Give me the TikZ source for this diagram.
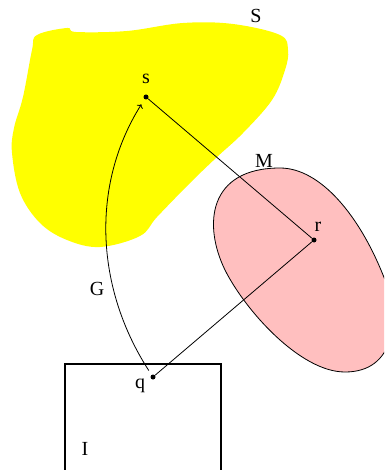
\documentclass[tikz,border=0pt]{standalone}
\usepackage{fontspec}
\setmainfont{Liberation Serif}
\usetikzlibrary{arrows.meta}
\definecolor{regionS}{HTML}{FFFF00}
\definecolor{regionM}{HTML}{FFBFBF}

\begin{document}
\begin{tikzpicture}[
    x=1pt,y=-1pt,
    every node/.style={font=\fontsize{20}{22}\selectfont,inner sep=0pt},
    dot/.style={circle,fill=black,minimum size=5pt,inner sep=0pt},
    link/.style={line width=0.8pt},
    frame/.style={line width=2pt}
]
\useasboundingbox (0,0) rectangle (384,470);
\clip (0,0) rectangle (384,470);
\fill[regionS] plot[smooth cycle,tension=0.6] coordinates {
    (37,35) (67,28) (76,32) (127,31) (183,23) (233,24) (280,35) (288,50)
    (285,70) (272,100) (243,133) (217,157) (190,183) (157,217) (140,236)
    (100,247) (67,240) (40,223) (20,193) (12,153) (14,128) (23,97) (32,50)};
\filldraw[fill=regionM,draw=black,line width=0.8pt]
    (280,168) .. controls (320,168) and (360,215) .. (385,280)
    .. controls (400,320) and (395,372) .. (345,372)
    .. controls (300,372) and (245,310) .. (225,270)
    .. controls (203,225) and (208,168) .. (280,168) -- cycle;
\draw[frame] (65,480) -- (65,364) -- (221,364) -- (221,480);

\node (labS) at (256,16) {S};
\node (labM) at (264,161) {M};
\node (labI) at (85,449) {I};
\node (labG) at (97,289) {G};

\node[dot] (s) at (146,97) {};
\node[dot] (r) at (314,240) {};
\node[dot] (q) at (153,377) {};
\node (labs) at (146,79) {s};
\node (labr) at (318,227) {r};
\node (labq) at (140,386) {q};

\draw[link] (s) -- (r);
\draw[link] (r) -- (q);
\draw[link,->,shorten <=5pt,shorten >=6pt] (q) .. controls (96,289) and (90,186) .. (s);
\end{tikzpicture}
\end{document}
